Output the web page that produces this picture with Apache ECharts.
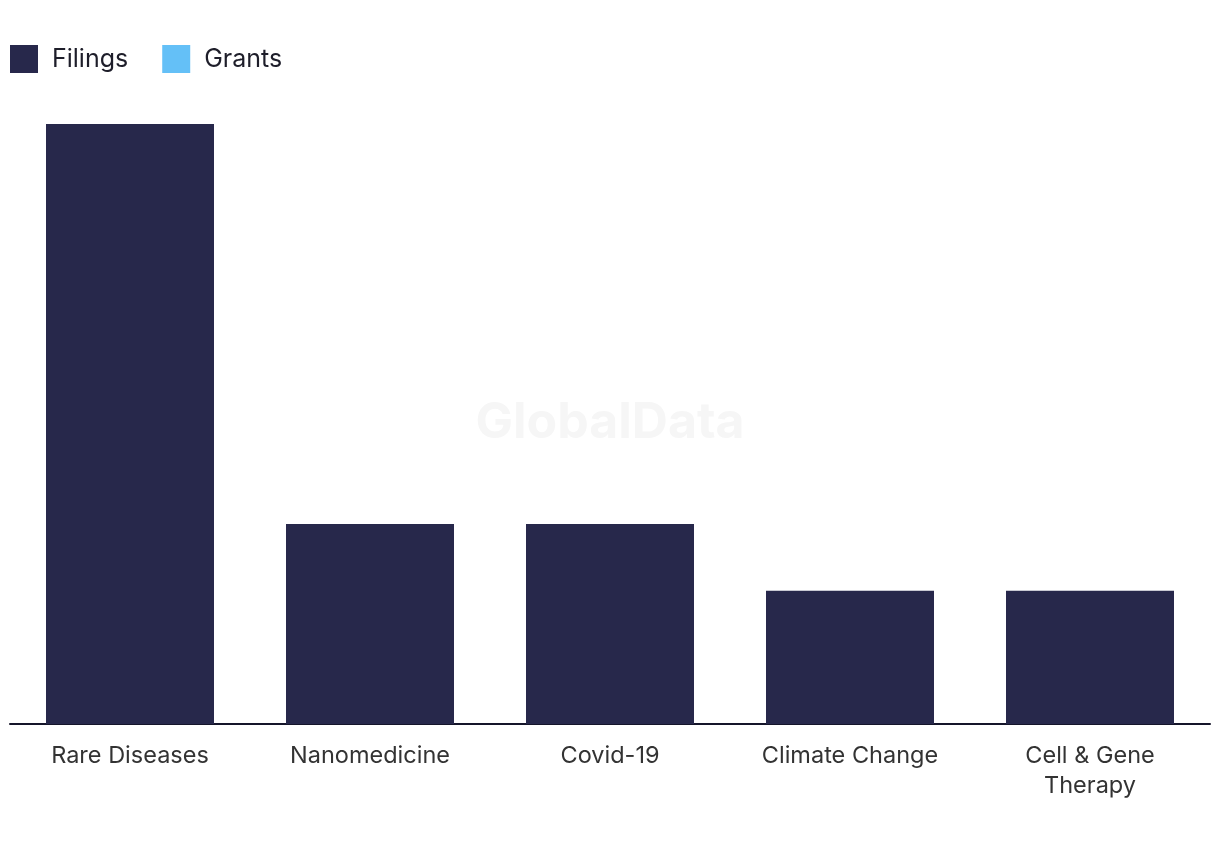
<!DOCTYPE html>
<html>
<head>
<meta charset="utf-8">
<script src="https://cdn.jsdelivr.net/npm/echarts@6/dist/echarts.min.js"></script>
<style>html,body{margin:0;padding:0;background:#fff}#c{width:1220px;height:850px}</style>
</head>
<body>
<div id="c"></div>
<script>
const categories = ['Rare Diseases', 'Nanomedicine', 'Covid-19', 'Climate Change', 'Cell & Gene\nTherapy'];
const filings = [9, 3, 3, 2, 2];
const grants = [0, 0, 0, 0, 0];

const chart = echarts.init(document.getElementById('c'));
const font = 'Inter, "Noto Sans", sans-serif';
chart.setOption({
  animation: false,
  backgroundColor: '#ffffff',
  textStyle: { fontFamily: font },
  graphic: [{
    type: 'text', left: 'center', top: 398, z: 0, silent: true,
    style: { text: 'GlobalData', font: 'bold 50px ' + font, fill: '#f6f6f6' }
  }],
  legend: {
    left: 10, top: 45, padding: 0, itemWidth: 28, itemHeight: 28, itemGap: 34,
    icon: 'rect',
    textStyle: { fontSize: 25, color: '#1e1e2a', padding: [0, 0, 0, 9] },
    data: ['Filings', 'Grants']
  },
  grid: { left: 10, right: 10, top: 124, bottom: 126, containLabel: false },
  xAxis: {
    type: 'category', data: categories,
    axisLine: { lineStyle: { color: '#15152a', width: 2 } },
    axisTick: { show: false },
    axisLabel: { fontSize: 23.5, color: '#333333', margin: 17, lineHeight: 30, interval: 0 }
  },
  yAxis: {
    type: 'value', min: 0, max: 9, show: false,
    splitLine: { show: false }
  },
  series: [
    { name: 'Filings', type: 'bar', stack: 'a', data: filings, barWidth: '70%', itemStyle: { color: '#27284b' }, z: 2 },
    { name: 'Grants', type: 'bar', stack: 'a', data: grants, barWidth: '70%', itemStyle: { color: '#64c0f7' }, z: 2 }
  ]
});
</script>
</body>
</html>
